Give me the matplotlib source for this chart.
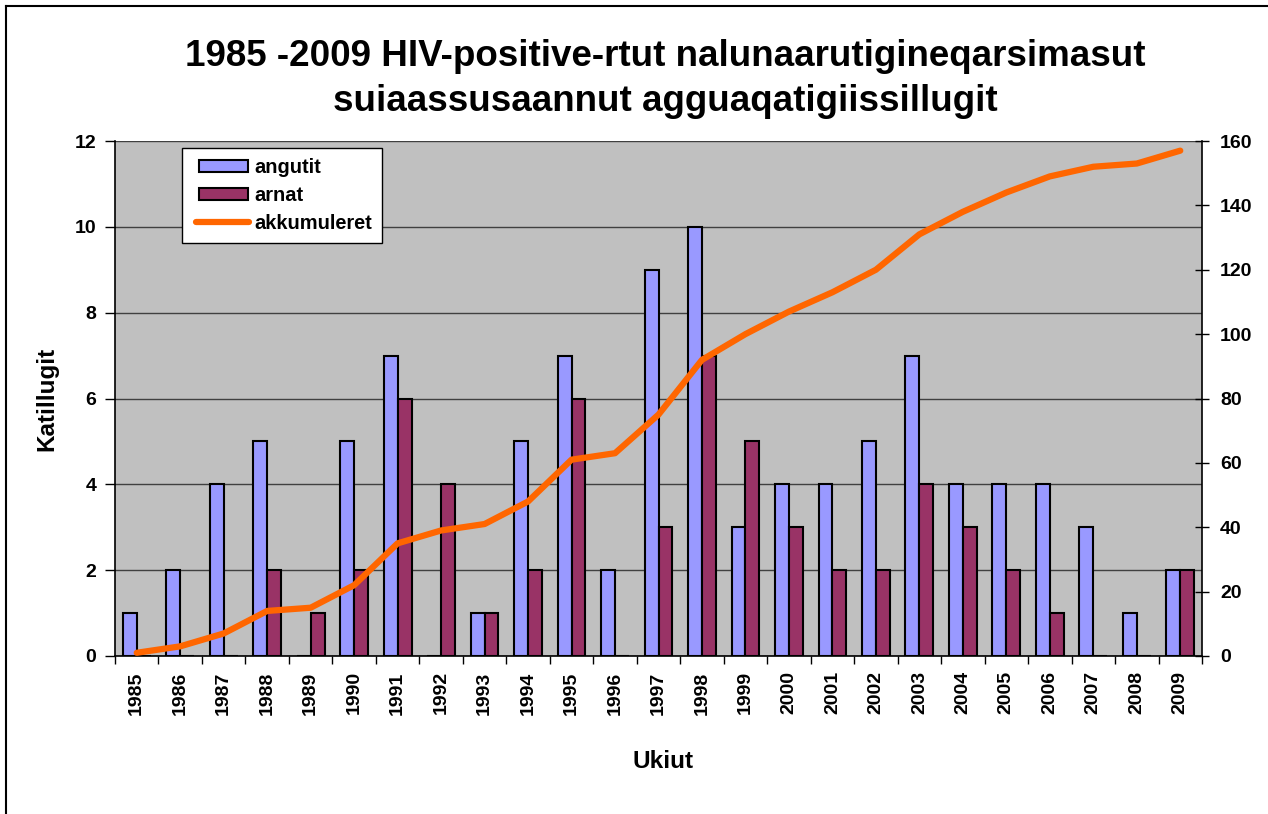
import matplotlib
matplotlib.use("Agg")
import matplotlib.pyplot as plt
from matplotlib.lines import Line2D
from matplotlib.patches import Patch, Rectangle
from matplotlib.legend_handler import HandlerBase
import numpy as np

years = ["1985", "1986", "1987", "1988", "1989", "1990", "1991", "1992", "1993",
         "1994", "1995", "1996", "1997", "1998", "1999", "2000", "2001", "2002",
         "2003", "2004", "2005", "2006", "2007", "2008", "2009"]
angutit = [1, 2, 4, 5, 0, 5, 7, 0, 1, 5, 7, 2, 9, 10, 3, 4, 4, 5, 7, 4, 4, 4, 3, 1, 2]
arnat = [0, 0, 0, 2, 1, 2, 6, 4, 1, 2, 6, 0, 3, 7, 5, 3, 2, 2, 4, 3, 2, 1, 0, 0, 2]
akkumuleret = [1, 3, 7, 14, 15, 22, 35, 39, 41, 48, 61, 63, 75, 92, 100, 107, 113,
               120, 131, 138, 144, 149, 152, 153, 157]

title_1 = "1985 -2009 HIV-positive-rtut nalunaarutigineqarsimasut"
title_2 = "suiaassusaannut agguaqatigiissillugit"
ylabel = "Katillugit"
xlabel = "Ukiut"
left_ticks = [0, 2, 4, 6, 8, 10, 12]
right_ticks = [0, 20, 40, 60, 80, 100, 120, 140, 160]

plt.rcParams['font.family'] = ['Liberation Sans', 'DejaVu Sans']

W, H = 1268, 814
fig = plt.figure(figsize=(W / 100, H / 100), dpi=100)
fig.patch.set_facecolor('white')

# outer frame (left and top visible)
fig.add_artist(Line2D([5.5 / W, 5.5 / W], [0, 1 - 6 / H], transform=fig.transFigure,
                      color='black', lw=1.5))
fig.add_artist(Line2D([5.5 / W, 1], [1 - 6 / H, 1 - 6 / H], transform=fig.transFigure,
                      color='black', lw=1.5))

l, r, b, t = 115, 1202, 656, 141
ax = fig.add_axes([l / W, 1 - b / H, (r - l) / W, (b - t) / H])
ax.set_facecolor('#C0C0C0')

x = np.arange(len(years))
bw = 0.32
ax.bar(x - bw / 2, angutit, width=bw, color='#9999FF', edgecolor='black', linewidth=1.5, zorder=3)
ax.bar(x + bw / 2, arnat, width=bw, color='#993366', edgecolor='black', linewidth=1.5, zorder=3)

ax.set_xlim(-0.5, len(years) - 0.5)
ax.set_ylim(0, 12)
ax.set_yticks(left_ticks)
ax.yaxis.grid(True, color='#404040', linewidth=1.0, zorder=0)
ax.set_axisbelow(True)

ax.set_xticks(np.arange(len(years) + 1) - 0.5)
ax.set_xticklabels([])
ax.set_xticks(x, minor=True)
ax.set_xticklabels(years, minor=True, rotation=90, fontsize=14, fontweight='bold')
ax.tick_params(axis='x', which='major', direction='out', length=6, width=1)
ax.tick_params(axis='x', which='minor', length=0, pad=11)
ax.tick_params(axis='y', direction='out', length=7, width=1, labelsize=14, pad=6.5)
for lab in ax.get_yticklabels():
    lab.set_fontweight('bold')

for s in ['top', 'right']:
    ax.spines[s].set_visible(False)
ax.spines['left'].set_linewidth(1.2)
ax.spines['bottom'].set_linewidth(1.2)

ax2 = ax.twinx()
ax2.plot(x, akkumuleret, color='#FF6600', linewidth=4.5, solid_capstyle='round', zorder=5)
ax2.set_ylim(0, 160)
ax2.set_yticks(right_ticks)
ax2.tick_params(axis='y', direction='inout', length=10, width=1, labelsize=14, pad=8)
for lab in ax2.get_yticklabels():
    lab.set_fontweight('bold')
for s in ['top', 'left', 'bottom']:
    ax2.spines[s].set_visible(False)
ax2.spines['right'].set_linewidth(1.2)
ax2.spines['right'].set_color('black')

fig.text(47 / W, 1 - 399 / H, ylabel, ha='center', va='center', rotation=90,
         fontsize=17.5, fontweight='bold')
fig.text(663 / W, 1 - 762 / H, xlabel, ha='center', va='center', fontsize=17.5, fontweight='bold')
fig.text(665 / W, 1 - 66 / H, title_1, ha='center', va='baseline', fontsize=26.5,
         fontweight='bold')
fig.text(665 / W, 1 - 111 / H, title_2, ha='center', va='baseline', fontsize=26.5,
         fontweight='bold')


class ShiftedHandler(HandlerBase):
    def __init__(self, shift=5.0, **kw):
        super().__init__(**kw)
        self.shift = shift

    def create_artists(self, legend, orig_handle, xdescent, ydescent, width, height,
                       fontsize, trans):
        s = self.shift
        if isinstance(orig_handle, Line2D):
            y = height / 2 - ydescent
            art = Line2D([-xdescent + s - 2, -xdescent + width + 1], [y, y],
                         color=orig_handle.get_color(), linewidth=orig_handle.get_linewidth(),
                         solid_capstyle='round')
        else:
            art = Rectangle((-xdescent + s, -ydescent), width - s, height,
                            facecolor=orig_handle.get_facecolor(),
                            edgecolor=orig_handle.get_edgecolor(),
                            linewidth=orig_handle.get_linewidth())
        art.set_transform(trans)
        return [art]


handles = [Patch(facecolor='#9999FF', edgecolor='black', linewidth=1.5),
           Patch(facecolor='#993366', edgecolor='black', linewidth=1.5),
           Line2D([0], [0], color='#FF6600', linewidth=4.5)]
hmap = {h: ShiftedHandler(shift=5.0) for h in handles}
leg = ax2.legend(handles, ['angutit', 'arnat', 'akkumuleret'], loc='upper left',
                 bbox_to_anchor=((182 - l) / (r - l), (b - 148) / (b - t)),
                 borderaxespad=0, fancybox=False, framealpha=1, edgecolor='black',
                 prop={'weight': 'bold', 'size': 14.4}, handlelength=2.8,
                 handleheight=0.5, handletextpad=0.3, labelspacing=0.45, borderpad=0.5,
                 handler_map=hmap)
leg.get_frame().set_linewidth(1.0)
leg.set_zorder(10)

fig.savefig('out.png', dpi=100, facecolor='white')
